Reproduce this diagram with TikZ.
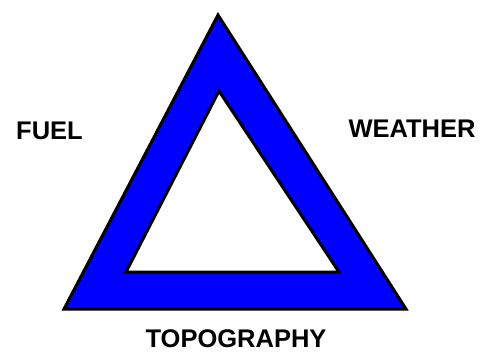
\documentclass[tikz,border=0pt]{standalone}
\usepackage{fontspec}
\setmainfont{Liberation Sans}
\begin{document}
\begin{tikzpicture}[x=1pt,y=-1pt,
  lbl/.style={font=\fontsize{25.5}{28}\selectfont\bfseries, inner sep=0pt, anchor=base},
  edge/.style={draw=black, line width=3pt, line join=miter}]
\useasboundingbox (0,0) rectangle (486,351);
\coordinate (oa) at (218,15);
\coordinate (ol) at (64,309);
\coordinate (or) at (406,309);
\coordinate (ia) at (219,91);
\coordinate (il) at (126,272);
\coordinate (ir) at (339,272);
\fill[blue, even odd rule] (oa) -- (ol) -- (or) -- cycle (ia) -- (il) -- (ir) -- cycle;
\draw[edge] (oa) -- (ol) -- (or) -- cycle;
\draw[edge] (ia) -- (il) -- (ir) -- cycle;
\node[lbl] (fuel) at (49.5,139) {FUEL};
\node[lbl] (weather) at (412,137) {WEATHER};
\node[lbl] (topo) at (236,347) {TOPOGRAPHY};
\end{tikzpicture}
\end{document}
